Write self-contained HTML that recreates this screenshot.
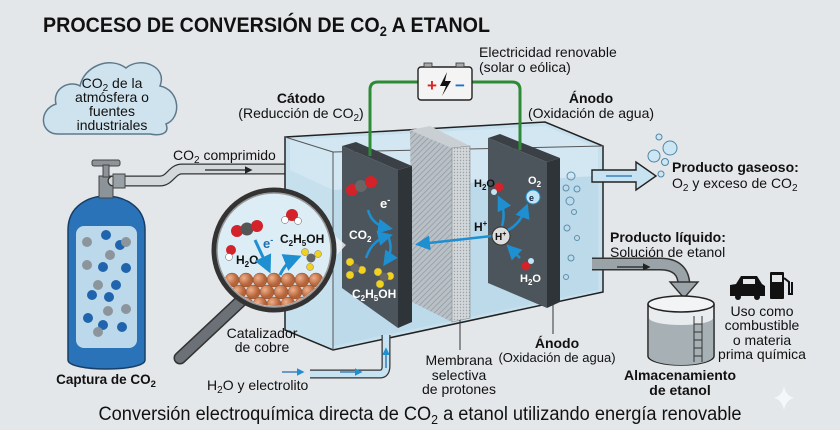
<!DOCTYPE html>
<html><head><meta charset="utf-8"><style>
html,body{margin:0;padding:0;background:#e4e7ea}
svg{display:block;font-family:"Liberation Sans",Arial,sans-serif}
</style></head><body>
<svg width="840" height="430" viewBox="0 0 840 430" xmlns="http://www.w3.org/2000/svg">
<defs>
<pattern id="hatch" width="4" height="4" patternUnits="userSpaceOnUse" patternTransform="rotate(45)">
<rect width="4" height="4" fill="#b9c1c7"/><line x1="0" y1="0" x2="0" y2="4" stroke="#8d979e" stroke-width="1.4"/></pattern>
<pattern id="dots" width="3" height="3" patternUnits="userSpaceOnUse"><rect width="3" height="3" fill="#d2d7da"/><circle cx="1.5" cy="1.5" r="0.7" fill="#9aa3a8"/></pattern>
<marker id="ab" markerWidth="6" markerHeight="6" refX="4" refY="3" orient="auto"><path d="M0,0 L6,3 L0,6 z" fill="#1e8fd0"/></marker>
<marker id="ak" markerWidth="6" markerHeight="6" refX="4" refY="3" orient="auto"><path d="M0,0 L6,3 L0,6 z" fill="#222"/></marker>
<radialGradient id="cu" cx="35%" cy="35%"><stop offset="0" stop-color="#f0b08a"/><stop offset="1" stop-color="#b5643a"/></radialGradient>
</defs>
<rect width="840" height="430" fill="#e4e7ea"/>
<text x="43" y="32" font-size="21.5" font-weight="bold" fill="#111" textLength="447" lengthAdjust="spacingAndGlyphs">PROCESO DE CONVERSIÓN DE CO<tspan font-size="14" dy="4">2</tspan><tspan dy="-4"> A ETANOL</tspan></text>

<!-- cloud -->
<path d="M58,134 C40,134 38,110 56,104 C52,88 70,80 80,86 C84,66 110,56 126,68 C140,56 168,66 160,86 C180,90 182,118 166,124 C170,134 160,136 150,134 Z" fill="#cfe3ef" stroke="#5d7a8c" stroke-width="1.5"/>
<g font-size="14" fill="#111" text-anchor="middle">
<text x="112" y="88">CO<tspan font-size="10" dy="3">2</tspan><tspan dy="-3"> de la</tspan></text>
<text x="112" y="102">atmósfera o</text>
<text x="112" y="116">fuentes</text>
<text x="112" y="130">industriales</text>
</g>

<!-- gas cylinder -->
<path d="M68,230 C68,205 90,196 106,196 C122,196 145,205 145,230 L145,360 C145,372 68,372 68,360 Z" fill="#2b73b8" stroke="#173f66" stroke-width="1.5"/>
<rect x="76" y="226" width="61" height="122" rx="8" fill="#bcd9ec"/>
<g fill="#1f64ad"><circle cx="106" cy="235" r="5"/><circle cx="120" cy="245" r="5"/><circle cx="103" cy="267" r="5"/><circle cx="126" cy="268" r="5"/><circle cx="92" cy="295" r="5"/><circle cx="109" cy="297" r="5"/><circle cx="88" cy="318" r="5"/><circle cx="103" cy="325" r="5"/><circle cx="122" cy="327" r="5"/><circle cx="116" cy="285" r="5"/></g>
<g fill="#8c959b"><circle cx="87" cy="242" r="5"/><circle cx="110" cy="255" r="5"/><circle cx="126" cy="242" r="5"/><circle cx="87" cy="265" r="5"/><circle cx="98" cy="285" r="5"/><circle cx="108" cy="311" r="5"/><circle cx="126" cy="309" r="5"/><circle cx="98" cy="332" r="5"/></g>
<rect x="99" y="176" width="14" height="22" fill="#8d9499" stroke="#444"/>
<rect x="92" y="160" width="28" height="6" rx="2" fill="#8d9499" stroke="#444"/>
<rect x="103" y="165" width="6" height="12" fill="#8d9499" stroke="#444"/>
<text x="106" y="384" font-size="13.5" font-weight="bold" text-anchor="middle" fill="#111">Captura de CO<tspan font-size="9.5" dy="3">2</tspan></text>

<!-- CO2 pipe -->
<path d="M113,181 L160,181 C170,181 172,169 182,169 L296,169" fill="none" stroke="#333" stroke-width="11" stroke-linecap="round"/>
<path d="M113,181 L160,181 C170,181 172,169 182,169 L296,169" fill="none" stroke="#d3d8db" stroke-width="8.5" stroke-linecap="round"/>
<rect x="113" y="174" width="12" height="14" fill="#9aa1a6" stroke="#444"/>
<line x1="205" y1="170" x2="250" y2="170" stroke="#222" stroke-width="1.3" marker-end="url(#ak)"/>
<text x="173" y="160" font-size="14" fill="#111">CO<tspan font-size="10" dy="3">2</tspan><tspan dy="-3"> comprimido</tspan></text>

<!-- cell box -->
<polygon points="285,137 545,122 603,146 603,292 333,350 285,330" fill="#c7e0ee" stroke="#222" stroke-width="1.5"/>
<polygon points="290,140 545,126 598,148 598,176 333,190 290,170" fill="#d9eaf3" opacity="0.7"/>
<polygon points="333,190 598,176 598,290 333,346" fill="#b5d5e7" opacity="0.6"/>
<line x1="333" y1="152" x2="333" y2="350" stroke="#555" stroke-width="1"/>
<line x1="333" y1="152" x2="603" y2="146" stroke="#555" stroke-width="1"/>
<line x1="285" y1="137" x2="333" y2="152" stroke="#555" stroke-width="1"/>
<!-- membrane -->
<polygon points="410,130 452,148 452,322 412,302" fill="url(#hatch)"/>
<polygon points="410,130 430,126 470,146 452,148" fill="#c9cfd3"/>
<polygon points="452,148 470,146 470,318 452,322" fill="url(#dots)" stroke="#888" stroke-width="0.6"/>
<!-- cathode plate -->
<polygon points="342,146 356,142 412,166 398,170" fill="#3a4046"/>
<polygon points="398,170 412,166 412,322 398,328" fill="#2f3439"/>
<polygon points="342,146 398,170 398,328 342,288" fill="#4c555b"/>
<!-- anode plate -->
<polygon points="488,138 500,134 560,158 547,162" fill="#3a4046"/>
<polygon points="547,162 560,158 560,302 547,308" fill="#2f3439"/>
<polygon points="488,138 547,162 547,308 488,283" fill="#4c555b"/>
<!-- wires -->
<path d="M370,156 L370,90 Q370,82 378,82 L418,82" fill="none" stroke="#2e8b35" stroke-width="3"/>
<path d="M520,150 L520,90 Q520,82 512,82 L472,82" fill="none" stroke="#2e8b35" stroke-width="3"/>
<!-- battery -->
<rect x="418" y="67" width="54" height="33" rx="3" fill="#f4f4f4" stroke="#222" stroke-width="1.4"/>
<rect x="424" y="63" width="8" height="4" fill="#aaa" stroke="#333" stroke-width="0.8"/><rect x="456" y="63" width="8" height="4" fill="#aaa" stroke="#333" stroke-width="0.8"/>
<text x="427" y="91" font-size="17" font-weight="bold" fill="#d22">+</text>
<path d="M447,72 L440,86 L446,86 L442,96 L451,81 L445,81 Z" fill="#111"/>
<text x="455" y="91" font-size="17" font-weight="bold" fill="#1d72c2">−</text>
<text x="479" y="57" font-size="14" fill="#111">Electricidad renovable</text>
<text x="479" y="72" font-size="14" fill="#111">(solar o eólica)</text>
<text x="301" y="103" font-size="14" font-weight="bold" text-anchor="middle" fill="#111">Cátodo</text>
<text x="301" y="118" font-size="14" text-anchor="middle" fill="#111">(Reducción de CO<tspan font-size="10" dy="3">2</tspan><tspan dy="-3">)</tspan></text>
<text x="591" y="103" font-size="14" font-weight="bold" text-anchor="middle" fill="#111">Ánodo</text>
<text x="591" y="118" font-size="14" text-anchor="middle" fill="#111">(Oxidación de agua)</text>

<!-- cathode contents -->
<circle cx="352" cy="190" r="6" fill="#d3222a"/><circle cx="361" cy="186" r="6" fill="#666"/><circle cx="371" cy="182" r="6" fill="#d3222a"/>
<text x="380" y="208" font-size="13" font-weight="bold" fill="#fff">e<tspan font-size="9" dy="-5">-</tspan></text>
<text x="349" y="239" font-size="12" font-weight="bold" fill="#fff">CO<tspan font-size="8" dy="3">2</tspan></text>
<path d="M368,210 Q372,225 388,228" fill="none" stroke="#1e8fd0" stroke-width="2.5" marker-end="url(#ab)"/>
<path d="M366,258 Q372,240 388,236" fill="none" stroke="#1e8fd0" stroke-width="2.5" marker-end="url(#ab)"/>
<path d="M388,236 Q394,250 386,262" fill="none" stroke="#1e8fd0" stroke-width="2.5" marker-end="url(#ab)"/>
<g fill="#f2d21a" stroke="#777" stroke-width="0.5"><circle cx="350" cy="262" r="4"/><circle cx="362" cy="270" r="4"/><circle cx="350" cy="275" r="4"/><circle cx="378" cy="272" r="4"/><circle cx="390" cy="276" r="4"/><circle cx="380" cy="284" r="4"/></g>
<circle cx="355" cy="268" r="4.5" fill="#666"/><circle cx="384" cy="277" r="4.5" fill="#666"/>
<text x="352" y="298" font-size="12" font-weight="bold" fill="#fff">C<tspan font-size="8" dy="3">2</tspan><tspan dy="-3">H</tspan><tspan font-size="8" dy="3">5</tspan><tspan dy="-3">OH</tspan></text>
<!-- H+ arrow -->
<line x1="492" y1="236" x2="420" y2="244" stroke="#1e8fd0" stroke-width="2.5" marker-end="url(#ab)"/>
<text x="474" y="231" font-size="12" font-weight="bold" fill="#111">H<tspan font-size="8" dy="-5">+</tspan></text>
<!-- anode contents -->
<circle cx="501" cy="236" r="9" fill="#ddd" stroke="#333"/><text x="495" y="240" font-size="10" font-weight="bold" fill="#111">H<tspan font-size="7" dy="-4">+</tspan></text>
<text x="474" y="187" font-size="11" font-weight="bold" fill="#111">H<tspan font-size="8" dy="3">2</tspan><tspan dy="-3">O</tspan></text>
<circle cx="499" cy="187" r="4.5" fill="#d3222a"/><circle cx="494" cy="192" r="3" fill="#bfe4f4"/>
<text x="528" y="184" font-size="11" font-weight="bold" fill="#fff">O<tspan font-size="8" dy="3">2</tspan></text>
<circle cx="533" cy="197" r="7" fill="#bfe4f4" stroke="#1e8fd0"/><text x="529" y="201" font-size="9" font-weight="bold" fill="#124">e</text>
<path d="M502,226 Q506,212 500,200" fill="none" stroke="#1e8fd0" stroke-width="2.5" marker-end="url(#ab)"/>
<path d="M508,230 Q520,224 526,208" fill="none" stroke="#1e8fd0" stroke-width="2.5" marker-end="url(#ab)"/>
<path d="M520,258 L510,248" fill="none" stroke="#1e8fd0" stroke-width="2.5" marker-end="url(#ab)"/>
<circle cx="526" cy="266" r="4.5" fill="#d3222a"/><circle cx="531" cy="261" r="3" fill="#bfe4f4"/>
<text x="520" y="282" font-size="11" font-weight="bold" fill="#fff">H<tspan font-size="8" dy="3">2</tspan><tspan dy="-3">O</tspan></text>
<g fill="none" stroke="#5b8fab" stroke-width="1"><circle cx="571" cy="176" r="4"/><circle cx="566" cy="188" r="3"/><circle cx="577" cy="189" r="3"/><circle cx="570" cy="201" r="4"/><circle cx="574" cy="212" r="2.5"/><circle cx="567" cy="228" r="3"/><circle cx="577" cy="238" r="2.5"/><circle cx="571" cy="258" r="3"/><circle cx="566" cy="277" r="2.5"/></g>

<!-- magnifier -->
<line x1="244" y1="298" x2="180" y2="358" stroke="#333" stroke-width="13" stroke-linecap="round"/>
<line x1="244" y1="298" x2="180" y2="358" stroke="#6b7176" stroke-width="10" stroke-linecap="round"/>
<polygon points="330,232 346,245 330,262" fill="#f0f3f5" opacity="0.8"/>
<circle cx="274" cy="250" r="60" fill="#dcedf6" stroke="#333" stroke-width="5"/>
<circle cx="274" cy="250" r="57" fill="none" stroke="#999" stroke-width="1.5"/>
<clipPath id="lens"><circle cx="274" cy="250" r="56"/></clipPath>
<g clip-path="url(#lens)" fill="url(#cu)" stroke="#8a4a2a" stroke-width="0.5">
<circle cx="232" cy="280" r="7"/><circle cx="246" cy="280" r="7"/><circle cx="260" cy="280" r="7"/><circle cx="274" cy="280" r="7"/><circle cx="288" cy="280" r="7"/><circle cx="302" cy="280" r="7"/><circle cx="316" cy="280" r="7"/><circle cx="330" cy="280" r="7"/>
<circle cx="225" cy="292" r="7"/><circle cx="239" cy="292" r="7"/><circle cx="253" cy="292" r="7"/><circle cx="267" cy="292" r="7"/><circle cx="281" cy="292" r="7"/><circle cx="295" cy="292" r="7"/><circle cx="309" cy="292" r="7"/><circle cx="323" cy="292" r="7"/>
<circle cx="232" cy="304" r="7"/><circle cx="246" cy="304" r="7"/><circle cx="260" cy="304" r="7"/><circle cx="274" cy="304" r="7"/><circle cx="288" cy="304" r="7"/><circle cx="302" cy="304" r="7"/><circle cx="316" cy="304" r="7"/>
</g>
<circle cx="237" cy="231" r="6" fill="#d3222a"/><circle cx="247" cy="229" r="6.5" fill="#555"/><circle cx="257" cy="226" r="6" fill="#d3222a"/>
<circle cx="292" cy="215" r="6" fill="#d3222a"/><circle cx="285" cy="220" r="3.5" fill="#fff" stroke="#555" stroke-width="0.5"/><circle cx="298" cy="221" r="3.5" fill="#fff" stroke="#555" stroke-width="0.5"/>
<circle cx="231" cy="250" r="5" fill="#d3222a"/><circle cx="229" cy="257" r="3.5" fill="#fff" stroke="#555" stroke-width="0.5"/>
<text x="236" y="264" font-size="12" font-weight="bold" fill="#111">H<tspan font-size="8" dy="3">2</tspan><tspan dy="-3">O</tspan></text>
<text x="263" y="248" font-size="13" font-weight="bold" fill="#1e6fb0">e<tspan font-size="9" dy="-5">-</tspan></text>
<path d="M255,240 L268,268" stroke="#1e8fd0" stroke-width="3" marker-end="url(#ab)"/>
<path d="M280,275 Q286,262 296,258" fill="none" stroke="#1e8fd0" stroke-width="3" marker-end="url(#ab)"/>
<text x="280" y="243" font-size="12" font-weight="bold" fill="#111">C<tspan font-size="8" dy="3">2</tspan><tspan dy="-3">H</tspan><tspan font-size="8" dy="3">5</tspan><tspan dy="-3">OH</tspan></text>
<g fill="#f2d21a" stroke="#777" stroke-width="0.5"><circle cx="305" cy="252" r="3.5"/><circle cx="318" cy="254" r="3.5"/><circle cx="310" cy="267" r="3.5"/></g><circle cx="311" cy="258" r="4.5" fill="#666"/>
<text x="262" y="338" font-size="14" text-anchor="middle" fill="#111">Catalizador</text>
<text x="262" y="352" font-size="14" text-anchor="middle" fill="#111">de cobre</text>

<!-- inlet -->
<path d="M310,374 L380,374 Q386,374 386,366 L386,335" fill="none" stroke="#333" stroke-width="9"/>
<path d="M310,374 L380,374 Q386,374 386,366 L386,335" fill="none" stroke="#c7e2f0" stroke-width="6.5"/>
<line x1="282" y1="372" x2="302" y2="372" stroke="#1e6fb0" stroke-width="1.3" marker-end="url(#ab)"/>
<line x1="340" y1="372" x2="360" y2="372" stroke="#1e6fb0" stroke-width="1.3" marker-end="url(#ab)"/>
<line x1="386" y1="368" x2="386" y2="350" stroke="#1e6fb0" stroke-width="1.3" marker-end="url(#ab)"/>
<text x="207" y="390" font-size="14" fill="#111">H<tspan font-size="10" dy="3">2</tspan><tspan dy="-3">O y electrolito</tspan></text>

<!-- gas outlet -->
<path d="M592,170 L636,170 L636,162 L656,176 L636,190 L636,182 L592,182 Z" fill="#c7e2f0" stroke="#222" stroke-width="1.4"/>
<line x1="606" y1="176" x2="632" y2="176" stroke="#1e6fb0" stroke-width="1.3"/>
<g fill="#cde6f3" stroke="#4f86a8" stroke-width="1"><circle cx="659" cy="137" r="3"/><circle cx="670" cy="148" r="7"/><circle cx="654" cy="156" r="6"/><circle cx="665" cy="162" r="3.5"/><circle cx="661" cy="174" r="3"/></g>
<text x="672" y="172" font-size="14" font-weight="bold" fill="#111">Producto gaseoso:</text>
<text x="672" y="188" font-size="14" fill="#111">O<tspan font-size="10" dy="3">2</tspan><tspan dy="-3"> y exceso de CO</tspan><tspan font-size="10" dy="3">2</tspan></text>

<!-- liquid outlet -->
<path d="M592,264 L660,264 Q684,264 684,286" fill="none" stroke="#333" stroke-width="13"/>
<path d="M592,264 L660,264 Q684,264 684,286" fill="none" stroke="#9aa3a7" stroke-width="10"/>
<polygon points="670,282 698,282 684,298" fill="#9aa3a7" stroke="#333" stroke-width="1.4"/>
<line x1="617" y1="267" x2="648" y2="267" stroke="#222" stroke-width="1.3" marker-end="url(#ak)"/>
<text x="610" y="242" font-size="14" font-weight="bold" fill="#111">Producto líquido:</text>
<text x="610" y="257" font-size="14" fill="#111">Solución de etanol</text>

<!-- storage -->
<path d="M648,304 L648,356 A33,9 0 0 0 714,356 L714,304" fill="#e9ecee" stroke="#222" stroke-width="1.5"/>
<path d="M649,318 A32,7 0 0 0 713,318 L713,356 A32,9 0 0 1 649,356 Z" fill="#a7b0b4"/>
<ellipse cx="681" cy="304" rx="33" ry="8" fill="#f2f4f5" stroke="#222" stroke-width="1.5"/>
<g stroke="#333" stroke-width="1"><line x1="694" y1="316" x2="694" y2="362"/><line x1="702" y1="316" x2="702" y2="362"/><line x1="694" y1="324" x2="702" y2="324"/><line x1="694" y1="332" x2="702" y2="332"/><line x1="694" y1="340" x2="702" y2="340"/><line x1="694" y1="348" x2="702" y2="348"/><line x1="694" y1="356" x2="702" y2="356"/></g>
<text x="680" y="380" font-size="14" font-weight="bold" text-anchor="middle" fill="#111">Almacenamiento</text>
<text x="680" y="395" font-size="14" font-weight="bold" text-anchor="middle" fill="#111">de etanol</text>

<!-- car & pump -->
<path d="M730,296 L730,285 L736,284 L741,276 L757,276 L762,284 L765,286 L765,296 Z" fill="#111"/>
<rect x="743" y="279" width="12" height="5" fill="#e4e7ea"/>
<circle cx="738" cy="297" r="3" fill="#111"/><circle cx="757" cy="297" r="3" fill="#111"/>
<rect x="770" y="272" width="14" height="27" rx="1" fill="#111"/><rect x="772" y="275" width="10" height="7" fill="#e4e7ea"/>
<path d="M784,278 L789,282 L789,294 L792,294 L792,282" fill="none" stroke="#111" stroke-width="2"/>
<g font-size="14" text-anchor="middle" fill="#111">
<text x="762" y="316">Uso como</text><text x="762" y="330">combustible</text><text x="762" y="345">o materia</text><text x="762" y="359">prima química</text></g>

<!-- leaders -->
<line x1="553" y1="300" x2="553" y2="334" stroke="#333"/>
<line x1="460" y1="320" x2="460" y2="350" stroke="#333"/>
<text x="557" y="348" font-size="14" font-weight="bold" text-anchor="middle" fill="#111">Ánodo</text>
<text x="557" y="362" font-size="13" text-anchor="middle" fill="#111">(Oxidación de agua)</text>
<g font-size="14" text-anchor="middle" fill="#111"><text x="459" y="365">Membrana</text><text x="459" y="380">selectiva</text><text x="459" y="394">de protones</text></g>

<path d="M784,386 Q786,396 794,398 Q786,400 784,410 Q782,400 774,398 Q782,396 784,386 Z" fill="#f4f6f7"/>
<text x="420" y="420" font-size="19" text-anchor="middle" fill="#111" textLength="643" lengthAdjust="spacingAndGlyphs">Conversión electroquímica directa de CO<tspan font-size="13" dy="4">2</tspan><tspan dy="-4"> a etanol utilizando energía renovable</tspan></text>
</svg>
</body></html>
